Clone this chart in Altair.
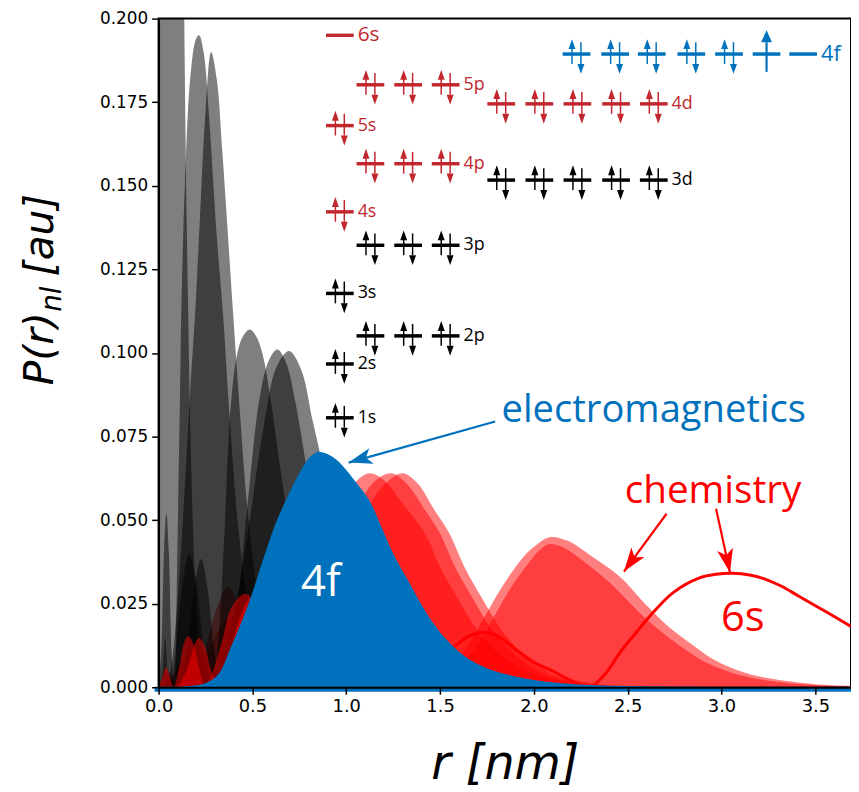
import altair as alt
import pandas as pd

X_MAX = 3.69
Y_MAX = 0.2
X_TICKS = [0.0, 0.5, 1.0, 1.5, 2.0, 2.5, 3.0, 3.5]
Y_TICKS = [0.0, 0.025, 0.05, 0.075, 0.1, 0.125, 0.15, 0.175, 0.2]

BLACK = "#000000"
RED = "#ff0000"
BLUE = "#0071bc"
DRED = "#c1272d"
INTERP = "catmull-rom"

# ---------------- radial distributions P(r)_nl, r in nm ----------------
R_1S = [0, 0.003, 0.008, 0.125, 0.137, 0.15, 0.158, 0.17, 0.185, 0.2, 0.22, 0.25, 0.3]
P_1S = [0, 0.1, 0.3, 0.3, 0.2, 0.14, 0.112, 0.075, 0.045, 0.025, 0.012, 0.004, 0]
R_2S = [0, 0.015, 0.03, 0.042, 0.055, 0.07, 0.085, 0.1, 0.115, 0.121, 0.14, 0.17, 0.2, 0.216,
        0.24, 0.27, 0.31, 0.343, 0.38, 0.43, 0.5, 0.6, 0.7]
P_2S = [0, 0.012, 0.042, 0.052, 0.04, 0.01, 0, 0.04, 0.09, 0.112, 0.15, 0.183, 0.194, 0.195,
        0.19, 0.17, 0.135, 0.112, 0.08, 0.045, 0.018, 0.004, 0]
R_2P = [0.03, 0.06, 0.1, 0.14, 0.17, 0.195, 0.22, 0.25, 0.28, 0.31, 0.34, 0.37, 0.397, 0.43,
        0.48, 0.55, 0.65, 0.8]
P_2P = [0, 0.004, 0.025, 0.06, 0.09, 0.112, 0.14, 0.172, 0.19, 0.182, 0.16, 0.135, 0.112, 0.085,
        0.05, 0.022, 0.006, 0]
R_3S = [0, 0.02, 0.035, 0.05, 0.065, 0.09, 0.12, 0.164, 0.2, 0.24, 0.29, 0.32, 0.35, 0.386,
        0.42, 0.45, 0.486, 0.52, 0.554, 0.6, 0.65, 0.72, 0.8, 0.9, 1.0]
P_3S = [0, 0.004, 0.0147, 0.004, 0, 0.01, 0.028, 0.040, 0.032, 0.012, 0, 0.015, 0.045, 0.085,
        0.1, 0.105, 0.107, 0.105, 0.0997, 0.085, 0.065, 0.04, 0.02, 0.007, 0]
R_3P = [0.1, 0.15, 0.19, 0.227, 0.26, 0.3, 0.34, 0.37, 0.42, 0.48, 0.54, 0.59, 0.633, 0.68,
        0.73, 0.8, 0.88, 0.97, 1.08, 1.2]
P_3P = [0, 0.01, 0.03, 0.0384, 0.03, 0.01, 0, 0.004, 0.024, 0.058, 0.087, 0.098, 0.101, 0.097,
        0.085, 0.062, 0.038, 0.018, 0.006, 0]
R_3D = [0.2, 0.3, 0.4, 0.48, 0.56, 0.63, 0.696, 0.76, 0.82, 0.86, 0.92, 1.0, 1.1, 1.2, 1.35]
P_3D = [0, 0.004, 0.022, 0.048, 0.078, 0.096, 0.1006, 0.095, 0.08, 0.07, 0.053, 0.033, 0.016,
        0.007, 0]

R_4S = [0, 0.025, 0.05, 0.075, 0.1, 0.15, 0.2, 0.25, 0.3, 0.36, 0.43, 0.5, 0.57, 0.64, 0.72,
        0.8, 0.88, 0.95, 1.05, 1.15, 1.23, 1.3, 1.38, 1.47, 1.55, 1.63, 1.72, 1.83, 1.95, 2.1,
        2.35, 2.7]
P_4S = [0, 0.003, 0.005, 0.003, 0, 0.008, 0.012, 0.008, 0, 0.008, 0.018, 0.022, 0.018, 0.008, 0,
        0.008, 0.02, 0.03, 0.045, 0.057, 0.062, 0.064, 0.061, 0.053, 0.046, 0.036, 0.027, 0.017,
        0.0097, 0.004, 0.001, 0]
R_4P = [0.05, 0.09, 0.12, 0.15, 0.19, 0.25, 0.33, 0.42, 0.5, 0.58, 0.68, 0.78, 0.88, 0.98, 1.08,
        1.16, 1.24, 1.32, 1.42, 1.5, 1.58, 1.67, 1.78, 1.9, 2.05, 2.3, 2.6]
P_4P = [0, 0.005, 0.008, 0.005, 0, 0.008, 0.018, 0.022, 0.015, 0.004, 0, 0.01, 0.025, 0.042,
        0.056, 0.062, 0.064, 0.061, 0.053, 0.046, 0.036, 0.027, 0.017, 0.0097, 0.004, 0.001, 0]
R_4D = [0.15, 0.22, 0.3, 0.37, 0.44, 0.52, 0.6, 0.7, 0.8, 0.9, 1.0, 1.045, 1.125, 1.2, 1.3, 1.42,
        1.5, 1.59, 1.7, 1.82, 2.0, 2.2, 2.5]
P_4D = [0, 0.006, 0.022, 0.030, 0.022, 0.006, 0, 0.005, 0.018, 0.036, 0.054, 0.061, 0.064, 0.062,
        0.055, 0.046, 0.036, 0.027, 0.017, 0.0097, 0.004, 0.0015, 0]

R_5S = [0, 0.02, 0.04, 0.06, 0.08, 0.11, 0.135, 0.158, 0.185, 0.215, 0.25, 0.33, 0.39, 0.46,
        0.53, 0.6, 0.68, 0.76, 0.85, 0.95, 1.05, 1.15, 1.25, 1.35, 1.45, 1.55, 1.62, 1.7, 1.79,
        1.88, 1.97, 2.03, 2.08, 2.15, 2.27, 2.41, 2.55, 2.66, 2.8, 2.92, 3.05, 3.18, 3.45, 3.69]
P_5S = [0, 0.003, 0.006, 0.003, 0, 0.006, 0.013, 0.0153, 0.013, 0.006, 0, 0.012, 0.024, 0.028,
        0.024, 0.012, 0, 0.006, 0.015, 0.021, 0.022, 0.018, 0.01, 0.003, 0, 0.003, 0.007, 0.0126,
        0.0214, 0.030, 0.037, 0.041, 0.0428, 0.042, 0.0375, 0.031, 0.023, 0.0175, 0.0115, 0.0073,
        0.0044, 0.0026, 0.0008, 0.0003]
R_5P = [0.1, 0.15, 0.19, 0.216, 0.245, 0.28, 0.32, 0.38, 0.44, 0.5, 0.57, 0.64, 0.72, 0.8, 0.9,
        1.0, 1.12, 1.22, 1.32, 1.4, 1.5, 1.57, 1.65, 1.74, 1.83, 1.93, 2.0, 2.084, 2.18, 2.3, 2.46,
        2.6, 2.71, 2.85, 2.97, 3.1, 3.23, 3.5, 3.69]
P_5P = [0, 0.005, 0.0125, 0.0147, 0.0125, 0.005, 0, 0.01, 0.022, 0.027, 0.022, 0.01, 0, 0.006,
        0.015, 0.021, 0.022, 0.016, 0.006, 0, 0.003, 0.007, 0.0126, 0.0214, 0.030, 0.038, 0.042,
        0.0449, 0.0438, 0.0395, 0.033, 0.0245, 0.0185, 0.0125, 0.0079, 0.0048, 0.0029, 0.0009,
        0.0004]
R_6S = [1.3, 1.4, 1.478, 1.567, 1.65, 1.725, 1.8, 1.915, 2.0, 2.095, 2.2, 2.3, 2.38, 2.464, 2.54,
        2.62, 2.744, 2.886, 2.97, 3.06, 3.15, 3.235, 3.32, 3.41, 3.55, 3.69]
P_6S = [0.001, 0.004, 0.0079, 0.0117, 0.0152, 0.0164, 0.0155, 0.0108, 0.0075, 0.005, 0.002,
        0.0002, 0.004, 0.0108, 0.016, 0.0214, 0.0284, 0.0328, 0.0338, 0.0341, 0.0336, 0.0323,
        0.0302, 0.0273, 0.0228, 0.0182]
R_4F = [0, 0.1, 0.2, 0.25, 0.317, 0.385, 0.475, 0.55, 0.617, 0.65, 0.7, 0.75, 0.8, 0.845, 0.89,
        0.95, 1.0, 1.06, 1.125, 1.18, 1.25, 1.335, 1.43, 1.53, 1.65, 1.76, 1.86, 2.0, 2.2, 2.5,
        3.0, 3.69]
P_4F = [0, 0.0001, 0.0006, 0.0012, 0.0038, 0.012, 0.0243, 0.037, 0.048, 0.0525, 0.0585, 0.064,
        0.0685, 0.0704, 0.07, 0.068, 0.065, 0.0607, 0.0557, 0.049, 0.04, 0.0314, 0.022, 0.0145,
        0.0085, 0.0055, 0.0038, 0.0022, 0.001, 0.0004, 0.0001, 0]

# ---------------- orbital (energy level) diagram ----------------
LEVELS = ["1s", "2s", "2p", "3s", "3p", "4s", "3d", "4p", "5s", "4d", "5p", "4f", "6s"]
LEVEL_P = [0.0806, 0.0967, 0.1051, 0.1178, 0.1322, 0.1422, 0.1517, 0.1566, 0.1680, 0.1745,
           0.1802, 0.1894, 0.1950]
LEVEL_COLOR = [BLACK, BLACK, BLACK, BLACK, BLACK, DRED, BLACK, DRED, DRED, DRED, DRED, BLUE, DRED]
LEVEL_OCC = [[2], [2], [2, 2, 2], [2], [2, 2, 2], [2], [2, 2, 2, 2, 2], [2, 2, 2], [2],
             [2, 2, 2, 2, 2], [2, 2, 2], [2, 2, 2, 2, 2, 1, 0], [0]]
LABEL_SIZE = [18, 18, 18, 18, 18, 18, 18, 18, 18, 18, 18, 22, 21]
BOX_R = {"s": [0.966], "p": [1.129, 1.330, 1.530],
         "d": [1.826, 2.029, 2.232, 2.438, 2.639],
         "f": [2.227, 2.433, 2.628, 2.839, 3.040, 3.240, 3.435]}

# ---------------- annotations ----------------
ANN_TEXT = ["electromagnetics", "chemistry", "6s", "4f"]
ANN_R = [2.639, 2.955, 3.113, 0.865]
ANN_P = [0.0792, 0.0551, 0.0167, 0.0273]
ANN_COLOR = [BLUE, RED, RED, "#ffffff"]
ANN_SIZE = [38.5, 39, 42, 44]

ARR_R1 = [1.794, 2.707, 2.971]
ARR_P1 = [0.0795, 0.0519, 0.0534]
ARR_R2 = [1.013, 2.480, 3.045]
ARR_P2 = [0.0672, 0.0346, 0.0343]
ARR_ANGLE = [254, 216, 168]
ARR_COLOR = [BLUE, RED, RED]

# ---------------- scales / axes ----------------
x_scale = alt.Scale(domain=[0, X_MAX], nice=False, zero=False)
y_scale = alt.Scale(domain=[0, Y_MAX], nice=False, zero=False)
AX = dict(labelFont="DejaVu Sans", labelColor="black", tickColor="black",
          tickSize=7, tickWidth=1.5, domainColor="black", domainWidth=2, grid=False, zindex=1,
          titleFont="DejaVu Sans", titleFontSize=48, titleFontStyle="italic",
          titleFontWeight="normal", titleColor="black")
x_axis = alt.Axis(values=X_TICKS, format=".1f", title="r [nm]", labelFlush=False,
                  labelFontSize=18, labelPadding=3, titlePadding=26, **AX)
y_axis = alt.Axis(values=Y_TICKS, format=".3f", title="", labelFontSize=17, labelPadding=4, **AX)


def XE(f="r"):
    return alt.X(f"{f}:Q", scale=x_scale, axis=x_axis)


def YE(f="P"):
    return alt.Y(f"{f}:Q", scale=y_scale, axis=y_axis)


def area(r, p, color, op=0.5):
    df = pd.DataFrame({"r": r, "P": p})
    return alt.Chart(df).mark_area(color=color, fillOpacity=op, interpolate=INTERP,
                                   clip=True).encode(x=XE(), y=YE())


layers = []
for r, p in [(R_4S, P_4S), (R_4P, P_4P), (R_4D, P_4D)]:
    layers.append(area(r, p, RED))
for r, p in [(R_1S, P_1S), (R_2S, P_2S), (R_2P, P_2P), (R_3S, P_3S), (R_3P, P_3P), (R_3D, P_3D)]:
    layers.append(area(r, p, BLACK))
for r, p in [(R_5S, P_5S), (R_5P, P_5P)]:
    layers.append(area(r, p, RED))

layers.append(alt.Chart(pd.DataFrame({"r": R_6S, "P": P_6S})).mark_line(
    color=RED, strokeWidth=3, interpolate=INTERP, clip=True).encode(x=XE(), y=YE()))
layers.append(area(R_4F, P_4F, BLUE, 1.0))
layers.append(alt.Chart(pd.DataFrame({"r": [0.0], "r2": [X_MAX], "P": [0.0]})).mark_rule(
    color=BLUE, strokeWidth=5, yOffset=2, y2Offset=2, xOffset=-4).encode(
    x=XE(), x2=alt.X2("r2"), y=YE()))

# annotation arrows
arr = pd.DataFrame({"r": ARR_R1, "P": ARR_P1, "r2": ARR_R2, "P2": ARR_P2,
                    "ang": ARR_ANGLE, "c": ARR_COLOR})
layers.append(alt.Chart(arr).mark_rule(strokeWidth=2.2).encode(
    x=XE(), y=YE(), x2=alt.X2("r2"), y2=alt.Y2("P2"), color=alt.Color("c:N", scale=None)))
head = pd.DataFrame({"r": ARR_R2, "P": ARR_P2, "ang": ARR_ANGLE, "c": ARR_COLOR})
layers.append(alt.Chart(head).mark_point(
    shape="M0,0L0.34,1L0,0.75L-0.34,1Z", size=2300, filled=True, opacity=1, strokeWidth=0).encode(
    x=XE(), y=YE(), angle=alt.Angle("ang:Q", scale=None), color=alt.Color("c:N", scale=None)))

ann = pd.DataFrame({"r": ANN_R, "P": ANN_P, "t": ANN_TEXT, "c": ANN_COLOR, "s": ANN_SIZE})
layers.append(alt.Chart(ann).mark_text(font="Open Sans", align="center", baseline="alphabetic").encode(
    x=XE(), y=YE(), text="t:N", color=alt.Color("c:N", scale=None), size=alt.Size("s:Q", scale=None)))

# orbital diagram tables
bars, ups, downs, singles, labels = [], [], [], [], []
for name, pv, col, occ, fs in zip(LEVELS, LEVEL_P, LEVEL_COLOR, LEVEL_OCC, LABEL_SIZE):
    cols = BOX_R[name[-1]]
    for rb, n in zip(cols, occ):
        bars.append({"r": rb, "P": pv, "c": col})
        if n == 2:
            ups.append({"r": rb, "P": pv, "c": col})
            downs.append({"r": rb, "P": pv, "c": col})
        elif n == 1:
            singles.append({"r": rb, "P": pv, "c": col})
    labels.append({"r": cols[-1], "P": pv, "c": col, "t": name, "s": fs})

bars = pd.DataFrame(bars)
ups = pd.DataFrame(ups)
downs = pd.DataFrame(downs)
singles = pd.DataFrame(singles)
labels = pd.DataFrame(labels)
CE = alt.Color("c:N", scale=None)

layers.append(alt.Chart(bars).mark_rule(strokeWidth=3.5, xOffset=-14, x2Offset=14).encode(
    x=XE(), x2=alt.X2("r"), y=YE(), color=CE))
layers.append(alt.Chart(ups).mark_rule(strokeWidth=1.5, xOffset=-4.5, yOffset=10, y2Offset=-7).encode(
    x=XE(), y=YE(), y2=alt.Y2("P"), color=CE))
layers.append(alt.Chart(ups).mark_point(shape="M0,-1L0.7,1L-0.7,1Z", size=100, filled=True,
                                        opacity=1, strokeWidth=0, xOffset=-4.5, yOffset=-10).encode(
    x=XE(), y=YE(), color=CE))
layers.append(alt.Chart(downs).mark_rule(strokeWidth=1.5, xOffset=4.5, yOffset=-12, y2Offset=10).encode(
    x=XE(), y=YE(), y2=alt.Y2("P"), color=CE))
layers.append(alt.Chart(downs).mark_point(shape="M0,1L0.7,-1L-0.7,-1Z", size=100, filled=True,
                                          opacity=1, strokeWidth=0, xOffset=4.5, yOffset=15).encode(
    x=XE(), y=YE(), color=CE))
layers.append(alt.Chart(singles).mark_rule(strokeWidth=2.2, yOffset=18, y2Offset=-12).encode(
    x=XE(), y=YE(), y2=alt.Y2("P"), color=CE))
layers.append(alt.Chart(singles).mark_point(shape="M0,-1L0.9,1L-0.9,1Z", size=150, filled=True,
                                            opacity=1, strokeWidth=0, yOffset=-18).encode(
    x=XE(), y=YE(), color=CE))
layers.append(alt.Chart(labels).mark_text(font="Open Sans", align="left", baseline="middle",
                                          dx=18).encode(
    x=XE(), y=YE(), text="t:N", color=CE, size=alt.Size("s:Q", scale=None)))

# y-axis title pieces: P(r)_nl [au]
TITLE_PARTS = ["P(r)", "nl", "[au]"]
tdf = pd.DataFrame({"t": TITLE_PARTS})
layers.append(alt.Chart(tdf.iloc[[0]]).mark_text(
    angle=270, align="left", baseline="alphabetic", font="DejaVu Sans", fontStyle="italic",
    fontSize=41, color="black").encode(x=alt.value(-107), y=alt.value(370), text="t:N"))
layers.append(alt.Chart(tdf.iloc[[1]]).mark_text(
    angle=270, align="left", baseline="alphabetic", font="DejaVu Sans", fontStyle="italic",
    fontSize=28, color="black").encode(x=alt.value(-98), y=alt.value(296), text="t:N"))
layers.append(alt.Chart(tdf.iloc[[2]]).mark_text(
    angle=270, align="left", baseline="alphabetic", font="DejaVu Sans", fontStyle="italic",
    fontSize=41, color="black").encode(x=alt.value(-107), y=alt.value(260), text="t:N"))

chart = alt.layer(*layers).properties(
    width=699, height=675,
    autosize=alt.AutoSizeParams(type="none"),
    padding={"left": 152, "top": 7, "right": 0, "bottom": 100},
).configure_view(stroke="black", strokeWidth=2)

chart.save("out.html", embed_options={"renderer": "svg", "actions": False})
